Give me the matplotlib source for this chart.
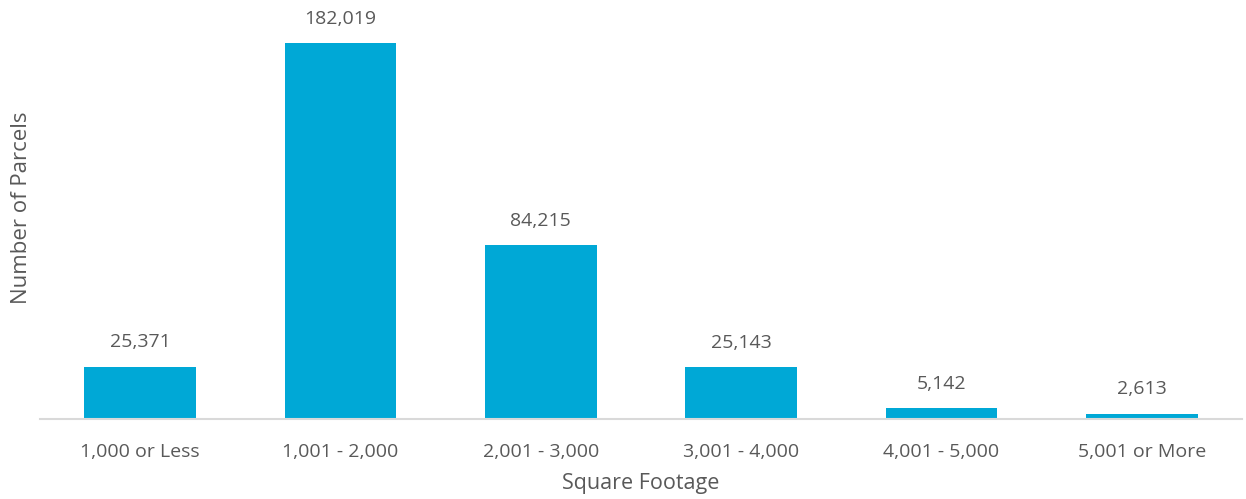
import matplotlib.pyplot as plt
import numpy as np

categories = ["1,000 or Less", "1,001 - 2,000", "2,001 - 3,000",
              "3,001 - 4,000", "4,001 - 5,000", "5,001 or More"]
parcels = [25371, 182019, 84215, 25143, 5142, 2613]

plt.rcParams["font.family"] = ["Open Sans", "DejaVu Sans"]
text_color = "#595959"

fig = plt.figure(figsize=(12.46, 4.99), dpi=100)
ax = fig.add_axes([40 / 1246, 80 / 499, 1202 / 1246, 413 / 499])

x = np.arange(len(categories))
bars = ax.bar(x, parcels, width=0.556, color="#00A8D6")

# value labels above each bar
for rect, val in zip(bars, parcels):
    ax.annotate(f"{val:,}", (rect.get_x() + rect.get_width() / 2, val),
                xytext=(0, 11), textcoords="offset points",
                ha="center", va="bottom", fontsize=14, color=text_color)

ax.set_xlim(-0.5, len(categories) - 0.5)
ax.set_ylim(0, 200000)
ax.set_xticks(x)
ax.set_xticklabels(categories, fontsize=14, color=text_color)
ax.tick_params(axis="x", length=0, pad=17)
ax.set_yticks([])

for side in ["top", "right", "left"]:
    ax.spines[side].set_visible(False)
ax.spines["bottom"].set_color("#D9D9D9")
ax.spines["bottom"].set_linewidth(1.5)

ax.set_xlabel("Square Footage", fontsize=15.5, color=text_color, labelpad=9)
fig.text(22 / 1246, 0.583, "Number of Parcels", rotation=90, fontsize=16,
         color=text_color, ha="center", va="center")

fig.savefig("out.png", dpi=100)
